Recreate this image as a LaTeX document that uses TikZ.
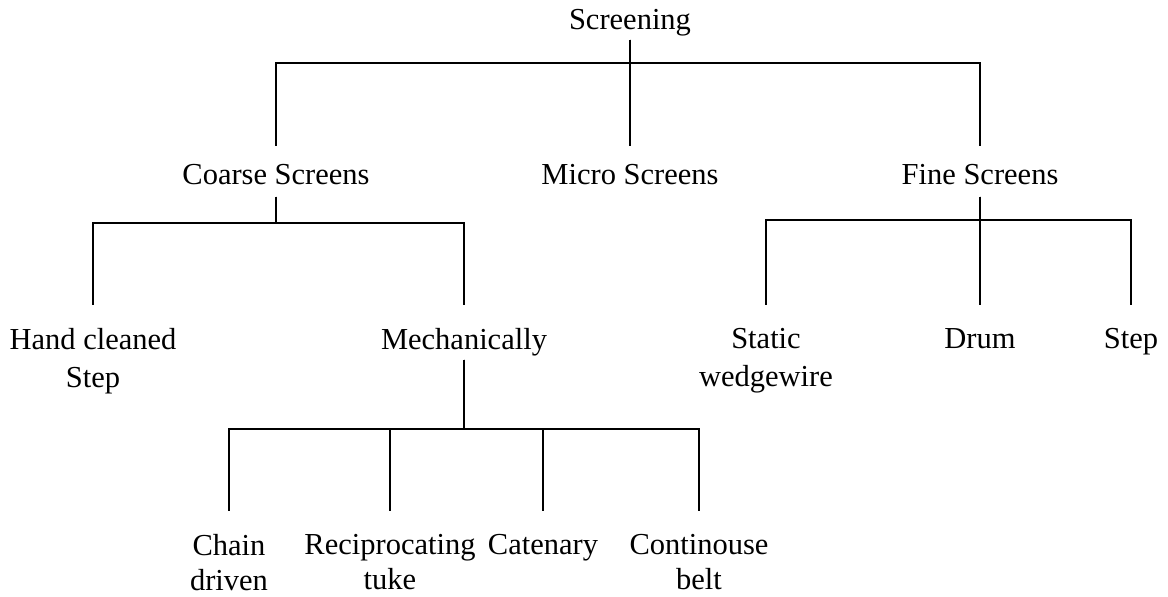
\documentclass[tikz,border=0pt]{standalone}
\usepackage{fontspec}
\setmainfont{Liberation Serif}
\begin{document}
\begin{tikzpicture}[
  x=1pt, y=-1pt, line width=2.8pt,
  every node/.style={inner sep=0pt,anchor=north,align=center,
    font=\fontsize{30.5}{37.5}\selectfont},
  leaf/.style={font=\fontsize{30.5}{35}\selectfont},
  link/.style={shorten <=10pt,shorten >=22pt}
]
  \useasboundingbox (0,0) rectangle (1168,597);

  \node (scr)    at (630,8)   {Screening};
  \node (coarse) at (276,163) {Coarse Screens};
  \node (micro)  at (630,163) {Micro Screens};
  \node (fine)   at (980,163) {Fine Screens};

  \node (hand)   at (93,327)  {Hand cleaned\\Step};
  \node (mech)   at (464,327) {Mechanically};
  \node (static) at (766,327) {Static\\wedgewire};
  \node (drum)   at (980,327) {Drum};
  \node (fstep)  at (1131,327) {Step};

  \node[leaf] (chain) at (229,533) {Chain\\driven};
  \node[leaf] (recip) at (390,533) {Reciprocating\\tuke};
  \node[leaf] (caten) at (543,533) {Catenary};
  \node[leaf] (belt)  at (699,533) {Continouse\\belt};

  \coordinate (b1) at (0,63);
  \coordinate (b2) at (0,223);
  \coordinate (b3) at (0,220);
  \coordinate (b4) at (0,429);

  \draw[link,shorten >=17pt] (scr.base) -- (scr.base |- b1) -| (coarse.north);
  \draw[link,shorten >=17pt] (scr.base) -- (micro.north);
  \draw[link,shorten >=17pt] (scr.base) -- (scr.base |- b1) -| (fine.north);

  \draw[link,shorten <=12pt] (coarse.base) -- (coarse.base |- b2) -| (hand.north);
  \draw[link,shorten <=12pt] (coarse.base) -- (coarse.base |- b2) -| (mech.north);

  \draw[link,shorten <=12pt] (fine.base) -- (fine.base |- b3) -| (static.north);
  \draw[link,shorten <=12pt] (fine.base) -- (drum.north);
  \draw[link,shorten <=12pt] (fine.base) -- (fine.base |- b3) -| (fstep.north);

  \draw[link] (mech.base) -- (mech.base |- b4) -| (chain.north);
  \draw[link] (mech.base) -- (mech.base |- b4) -| (recip.north);
  \draw[link] (mech.base) -- (mech.base |- b4) -| (caten.north);
  \draw[link] (mech.base) -- (mech.base |- b4) -| (belt.north);
\end{tikzpicture}
\end{document}
